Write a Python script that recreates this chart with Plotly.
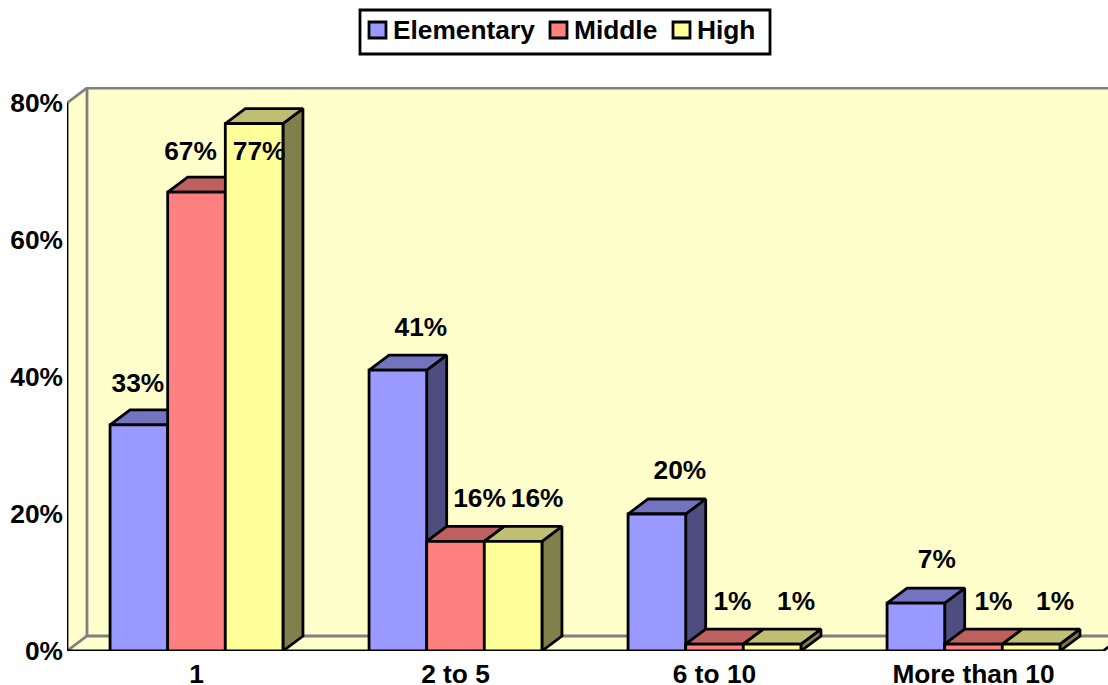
import plotly.graph_objects as go

categories = ["1", "2 to 5", "6 to 10", "More than 10"]
series_names = ["Elementary", "Middle", "High"]
elementary = [33, 41, 20, 7]
middle = [67, 16, 1, 1]
high = [77, 16, 1, 1]
y_ticks = [0, 20, 40, 60, 80]

# styling
series_values = [elementary, middle, high]
front = ["#9999FF", "#FF8080", "#FFFF99"]
top = ["#7373BF", "#BF6060", "#BFBF73"]
side = ["#4D4D80", "#804040", "#80804D"]
label_dx = [[-1, 23, 23, 21], [-6, 24, 18, 20], [5, 24, 24, 24]]
label_dy = [[40, 41, 42, 42], [39, 41, 41, 41], [-30, 41, 41, 41]]
legend_swatch_px = [368, 549, 672]
legend_text_px = [393, 574, 697]

W, H = 1108, 685
L, R, T, B = 67, 0, 87, 34
PX_X = 259.0  # pixels per category
PX_Y = 6.85   # pixels per percent
x_range = [-0.5, -0.5 + (W - L - R) / PX_X]
y_range = [0, (H - T - B) / PX_Y]
bar_w = 0.2225
dx = 20 / PX_X
dy = 15 / PX_Y
FONT = "Liberation Sans, Arial, sans-serif"
FS = 26.3
LW = 2.8

fig = go.Figure()


def poly(xs, ys, fill, line_color="black", width=LW):
    fig.add_trace(go.Scatter(
        x=xs + xs[:1], y=ys + ys[:1], mode="lines", fill="toself", fillcolor=fill,
        line=dict(color=line_color, width=width, shape="linear"),
        showlegend=False, hoverinfo="skip", cliponaxis=True))


def line(xs, ys, color, width=LW):
    fig.add_trace(go.Scatter(x=xs, y=ys, mode="lines", line=dict(color=color, width=width),
                             showlegend=False, hoverinfo="skip", cliponaxis=False))


x0, x1 = -0.5, x_range[1]
x_end = 3.5
wall = "#FFFFCC"
ymax = y_ticks[-1]
# back wall, left wall, floor
poly([x0 + dx, x1 + 1, x1 + 1, x0 + dx], [dy, dy, ymax + dy, ymax + dy], wall, "rgba(0,0,0,0)", 0)
poly([x0, x0 + dx, x0 + dx, x0], [0, dy, ymax + dy, ymax], wall, "rgba(0,0,0,0)", 0)
poly([x0, x_end, x_end + dx, x1 + 1, x1 + 1, x0 + dx], [0, 0, dy, dy, dy, dy], wall, "rgba(0,0,0,0)", 0)
line([x0, x0 + dx, x1], [ymax, ymax + dy, ymax + dy], "#808080")
line([x0 + dx, x0 + dx], [dy, ymax + dy], "#808080")
line([x0, x0 + dx, x1], [0, dy, dy], "#808080")
line([x0, x0], [0, ymax], "black")
line([x0, x_end, x_end + dx], [0, 0, dy], "black")

# side and top faces, painted back to front
for c in range(len(categories)):
    for s, vals in enumerate(series_values):
        v = vals[c]
        left = c - 1.5 * bar_w + s * bar_w
        right = left + bar_w
        poly([right, right + dx, right + dx, right], [0, dy, v + dy, v], side[s])
        poly([left, left + dx, right + dx, right], [v, v + dy, v + dy, v], top[s])

# front faces on the overlaid axes
for s, vals in enumerate(series_values):
    fig.add_trace(go.Bar(
        x=list(range(len(categories))), y=vals, name=series_names[s], width=bar_w,
        marker=dict(color=front[s], line=dict(color="black", width=LW)),
        xaxis="x2", yaxis="y2", hoverinfo="skip", showlegend=False))

# data labels
lx, ly, lt = [], [], []
for s, vals in enumerate(series_values):
    for c, v in enumerate(vals):
        lx.append(c - 1.5 * bar_w + (s + 0.5) * bar_w + label_dx[s][c] / PX_X)
        ly.append(v + label_dy[s][c] / PX_Y)
        lt.append(f"<b>{v}%</b>")
fig.add_trace(go.Scatter(x=lx, y=ly, text=lt, mode="text", textposition="middle center",
                         textfont=dict(family=FONT, size=FS, color="black"),
                         xaxis="x2", yaxis="y2", showlegend=False, hoverinfo="skip", cliponaxis=False))


# legend drawn in page pixels
def px(x):
    return (x - L) / (W - L - R)


def py(y):
    return 1 - (y - T) / (H - T - B)


shapes = [dict(type="rect", xref="paper", yref="paper", x0=px(360), x1=px(770), y0=py(54), y1=py(10),
               fillcolor="white", line=dict(color="black", width=LW))]
annotations = []
for s, name in enumerate(series_names):
    shapes.append(dict(type="rect", xref="paper", yref="paper", x0=px(legend_swatch_px[s] + 1),
                       x1=px(legend_swatch_px[s] + 18), y0=py(38), y1=py(22),
                       fillcolor=front[s], line=dict(color="black", width=LW)))
    annotations.append(dict(xref="paper", yref="paper", x=px(legend_text_px[s]), y=py(30), text=f"<b>{name}</b>",
                            xanchor="left", yanchor="middle", showarrow=False, xshift=-1,
                            borderpad=0, font=dict(family=FONT, size=FS, color="black")))

base_x = dict(range=x_range, showgrid=False, zeroline=False, showline=False, ticks="", automargin=False)
base_y = dict(range=y_range, showgrid=False, zeroline=False, showline=False, ticks="", automargin=False)
fig.update_layout(
    width=W, height=H, autosize=False,
    margin=dict(l=L, r=R, t=T, b=B, pad=0),
    paper_bgcolor="white", plot_bgcolor="white",
    barmode="group", bargap=0.3325, bargroupgap=0, showlegend=False,
    font=dict(family=FONT, size=FS, color="black"),
    shapes=shapes, annotations=annotations,
    xaxis=dict(base_x, showticklabels=False),
    yaxis=dict(base_y, showticklabels=False),
    xaxis2=dict(base_x, overlaying="x", tickmode="array", tickvals=list(range(len(categories))),
                ticktext=[f"<b>{c}</b>" for c in categories], tickfont=dict(family=FONT, size=FS), ticklen=0,
                ticklabelstandoff=5),
    yaxis2=dict(base_y, overlaying="y", tickmode="array", tickvals=y_ticks,
                ticktext=[f"<b>{t}%</b>" for t in y_ticks], tickfont=dict(family=FONT, size=FS), ticklen=0,
                ticklabelstandoff=3),
)
fig.write_html("out.html", config=dict(displayModeBar=False),
               post_script="document.body.style.margin='0';document.documentElement.style.overflow='hidden';")
